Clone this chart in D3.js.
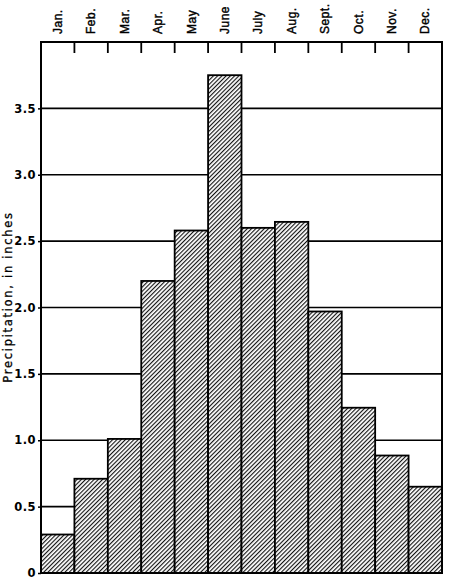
<!DOCTYPE html>
<html>
<head>
<meta charset="utf-8">
<script src="https://cdn.jsdelivr.net/npm/d3@7"></script>
<style>
  body { margin: 0; background: #fff; }
  svg { display: block; font-family: "DejaVu Sans", "Liberation Sans", Arial, sans-serif; }
</style>
</head>
<body>
<div id="chart"></div>
<script>
// Monthly precipitation, in inches
const months = ["Jan.", "Feb.", "Mar.", "Apr.", "May", "June", "July", "Aug.", "Sept.", "Oct.", "Nov.", "Dec."];
const precip = [0.29, 0.71, 1.01, 2.20, 2.58, 3.75, 2.60, 2.645, 1.97, 1.245, 0.885, 0.65];
const yTicks = [0, 0.5, 1.0, 1.5, 2.0, 2.5, 3.0, 3.5];
const yTickLabels = ["0", "0.5", "1.0", "1.5", "2.0", "2.5", "3.0", "3.5"];

const width = 450, height = 581;
const margin = { top: 42, right: 8, bottom: 8, left: 41 };

const svg = d3.select("#chart")
    .append("svg")
    .attr("width", width)
    .attr("height", height);

// hatch pattern for bars
const defs = svg.append("defs");
const pattern = defs.append("pattern")
    .attr("id", "hatch")
    .attr("patternUnits", "userSpaceOnUse")
    .attr("width", 3)
    .attr("height", 3)
    .attr("patternTransform", "rotate(45)");
pattern.append("rect")
    .attr("width", 3).attr("height", 3).attr("fill", "#fff");
pattern.append("line")
    .attr("x1", 0.6).attr("y1", 0).attr("x2", 0.6).attr("y2", 3)
    .attr("stroke", "#000")
    .attr("stroke-width", 1.05);

// Scales
const x = d3.scaleBand()
    .domain(months)
    .range([margin.left, width - margin.right])
    .padding(0);

const y = d3.scaleLinear()
    .domain([0, 4])
    .range([height - margin.bottom, margin.top]);

// Gridlines (behind bars)
svg.append("g")
    .selectAll("line")
    .data(yTicks.filter(d => d > 0))
    .join("line")
    .attr("x1", margin.left)
    .attr("x2", width - margin.right)
    .attr("y1", d => y(d))
    .attr("y2", d => y(d))
    .attr("stroke", "#000")
    .attr("stroke-width", 1.6);

// Bars
svg.append("g")
    .selectAll("rect")
    .data(precip)
    .join("rect")
    .attr("x", (d, i) => x(months[i]))
    .attr("y", d => y(d))
    .attr("width", x.bandwidth())
    .attr("height", d => y(0) - y(d))
    .attr("fill", "url(#hatch)")
    .attr("stroke", "#000")
    .attr("stroke-width", 1.8);

// Frame
svg.append("rect")
    .attr("x", margin.left)
    .attr("y", margin.top)
    .attr("width", width - margin.right - margin.left)
    .attr("height", height - margin.bottom - margin.top)
    .attr("fill", "none")
    .attr("stroke", "#000")
    .attr("stroke-width", 2);

// Top ticks at month boundaries
svg.append("g")
    .selectAll("line")
    .data(months.slice(1))
    .join("line")
    .attr("x1", d => x(d))
    .attr("x2", d => x(d))
    .attr("y1", margin.top)
    .attr("y2", margin.top + 11)
    .attr("stroke", "#000")
    .attr("stroke-width", 1.8);

// Month labels (rotated, along top)
const topAxis = svg.append("g")
    .attr("transform", `translate(0,${margin.top})`)
    .call(d3.axisTop(x).tickSize(0).tickPadding(0));
topAxis.select(".domain").remove();
topAxis.selectAll("text")
    .attr("transform", "rotate(-90)")
    .attr("x", 8)
    .attr("y", 0)
    .attr("dy", "0.35em")
    .attr("text-anchor", "start")
    .style("font-size", "12px")
    .style("letter-spacing", "0.5px")
    .attr("fill", "#000")
    .attr("stroke", "#000")
    .attr("stroke-width", 0.4);

// Y axis labels
const leftAxis = svg.append("g")
    .attr("transform", `translate(${margin.left},0)`)
    .call(d3.axisLeft(y)
        .tickValues(yTicks)
        .tickFormat((d, i) => yTickLabels[i])
        .tickSize(3)
        .tickPadding(2));
leftAxis.select(".domain").remove();
leftAxis.selectAll("line").attr("stroke", "#000").attr("stroke-width", 1.5);
leftAxis.selectAll("text")
    .style("font-size", "11.5px")
    .style("font-weight", "bold")
    .style("letter-spacing", "0.5px")
    .style("font-family", "'DejaVu Sans', sans-serif")
    .attr("fill", "#000");

// Y axis title
svg.append("text")
    .attr("transform", "translate(8,297) rotate(-90)")
    .attr("text-anchor", "middle")
    .attr("dy", "0.35em")
    .style("font-size", "11.5px")
    .style("letter-spacing", "1.7px")
    .attr("stroke", "#000")
    .attr("stroke-width", 0.3)
    .text("Precipitation, in inches");
</script>
</body>
</html>
